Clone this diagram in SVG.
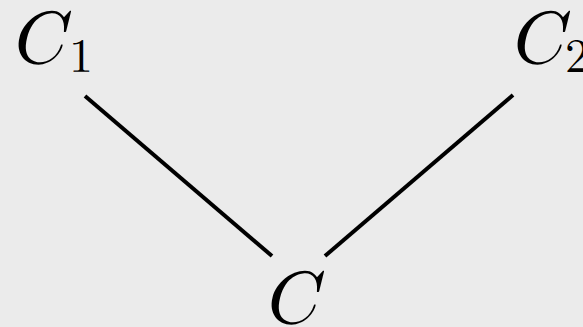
<svg xmlns="http://www.w3.org/2000/svg" width="583" height="327" viewBox="0 0 583 327">
<style>
.t{font-family:"Latin Modern Math","Liberation Serif","DejaVu Serif",serif;font-style:italic;fill:#000}
.s{font-family:"Latin Modern Math","Liberation Serif","DejaVu Serif",serif;fill:#000}
.e{stroke:#000;stroke-width:4;fill:none}
</style>
<rect width="583" height="327" fill="#ebebeb"/>
<g id="connectors">
<line class="e" x1="85" y1="96" x2="272" y2="256"/>
<line class="e" x1="513" y1="95" x2="325" y2="256"/>
</g>
<g id="C1"><text class="t" x="9" y="63" font-size="74">C</text><text class="s" x="69" y="72" font-size="48">1</text></g>
<g id="C2"><text class="t" x="508" y="63" font-size="74">C</text><text class="s" x="565" y="72" font-size="48">2</text></g>
<g id="C"><text class="t" x="262" y="323" font-size="74">C</text></g>
</svg>
